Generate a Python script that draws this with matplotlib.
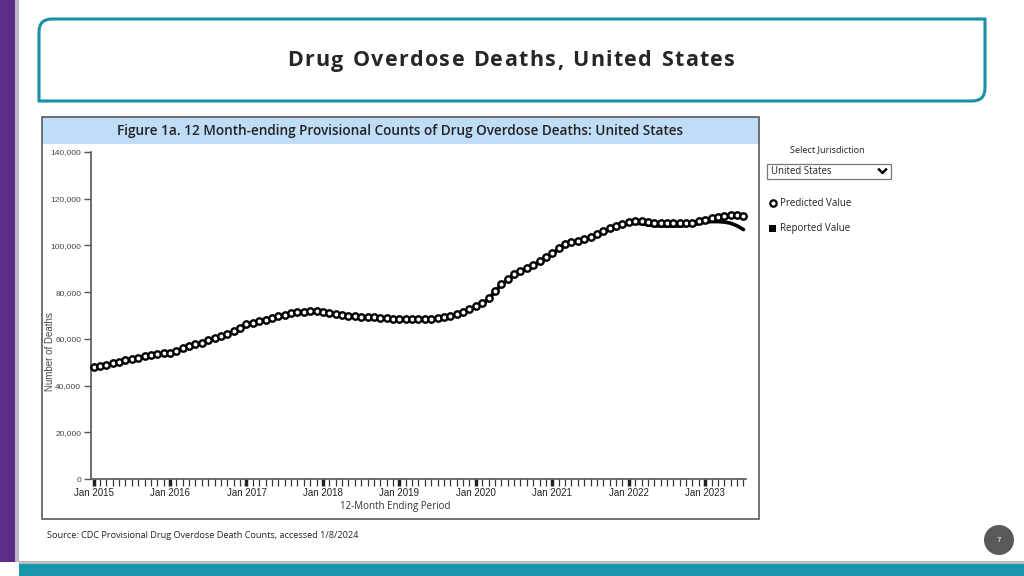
import numpy as np
import matplotlib
matplotlib.use("Agg")
import matplotlib.pyplot as plt
from matplotlib.patches import Rectangle, Circle, PathPatch
from matplotlib.path import Path
from matplotlib.ticker import FuncFormatter

# 12-month ending provisional counts, Jan 2015 .. Jul 2023
predicted = [
    48000, 48400, 49000, 49600, 50200, 50800, 51400, 52000, 52600, 53100, 53500, 53800,
    54000, 54900, 55900, 56800, 57600, 58400, 59300, 60300, 61300, 62200, 63200, 64600,
    66200, 67000, 67600, 68200, 68900, 69700, 70300, 70900, 71300, 71700, 71900, 71900,
    71600, 71100, 70600, 70200, 69900, 69700, 69500, 69400, 69300, 69100, 68900, 68700,
    68600, 68500, 68500, 68500, 68600, 68700, 68900, 69300, 69900, 70700, 71600, 72700,
    74000, 75400, 77300, 80600, 83400, 85700, 87600, 89200, 90500, 91800, 93200, 94900,
    96800, 98800, 100400, 101300, 101900, 102700, 103700, 104800, 106000, 107300, 108400, 109200,
    110000, 110600, 110500, 109900, 109600, 109500, 109500, 109500, 109500, 109600, 109800, 110300,
    111000, 111600, 112100, 112800, 113100, 112900, 112400,
]
reported = [
    47700, 48100, 48700, 49300, 49900, 50500, 51100, 51700, 52300, 52800, 53200, 53500,
    53700, 54600, 55600, 56500, 57300, 58100, 59000, 60000, 61000, 61900, 62900, 64300,
    65900, 66700, 67300, 67900, 68600, 69400, 70000, 70600, 71000, 71400, 71600, 71600,
    71300, 70800, 70300, 69900, 69600, 69400, 69200, 69100, 69000, 68800, 68600, 68400,
    68300, 68200, 68200, 68200, 68300, 68400, 68600, 69000, 69600, 70400, 71300, 72400,
    73700, 75100, 77000, 80300, 83100, 85400, 87300, 88900, 90200, 91500, 92900, 94600,
    96400, 98400, 100000, 100900, 101500, 102300, 103300, 104300, 105500, 106800, 107800, 108600,
    109300, 109500, 109300, 108800, 108400, 108300, 108300, 108300, 108300, 108500, 108800, 109400,
    110000, 110200, 110200, 110000, 109500, 108400, 106800,
]
year_labels = ["Jan 2015", "Jan 2016", "Jan 2017", "Jan 2018", "Jan 2019",
               "Jan 2020", "Jan 2021", "Jan 2022", "Jan 2023"]
y_ticks = [0, 20000, 40000, 60000, 80000, 100000, 120000, 140000]

W, H = 1024, 576
fig = plt.figure(figsize=(W / 100, H / 100), dpi=100)
fig.patch.set_facecolor("white")

# pixel-space overlay for the slide decorations
bg = fig.add_axes([0, 0, 1, 1])
bg.set_xlim(0, W)
bg.set_ylim(H, 0)
bg.axis("off")

# left purple band and bottom teal band
bg.add_patch(Rectangle((0, 0), 15, 562, color="#5B2D88", lw=0))
bg.add_patch(Rectangle((15, 0), 4, 562, color="#BEB6C6", lw=0))
bg.add_patch(Rectangle((19, 561), W - 19, 3, color="#BDBDBD", lw=0))
bg.add_patch(Rectangle((19, 564), W - 19, 12, color="#1896AB", lw=0))

# title box: rounded top-left and bottom-right corners
x0, x1, y0, y1, r = 39, 985, 19, 101, 13
verts = [(x0, y0 + r), (x0, y0), (x0 + r, y0), (x1, y0), (x1, y1 - r),
         (x1, y1), (x1 - r, y1), (x0, y1), (x0, y0 + r)]
codes = [Path.MOVETO, Path.CURVE3, Path.CURVE3, Path.LINETO, Path.LINETO,
         Path.CURVE3, Path.CURVE3, Path.LINETO, Path.CLOSEPOLY]
bg.add_patch(PathPatch(Path(verts, codes), fc="white", ec="#1A90A8", lw=2.2))

# letter-spaced slide title, placed char by char
title = "Drug Overdose Deaths, United States"
tracking = 1.35
renderer = fig.canvas.get_renderer()
widths = []
for ch in title:
    t = bg.text(0, 0, ch if ch != " " else "n", fontsize=15.5, fontweight="bold",
                family="Open Sans")
    w = t.get_window_extent(renderer).width
    t.remove()
    widths.append(w * (0.45 if ch == " " else 1.0))
total = sum(widths) + tracking * (len(title) - 1)
cx = 511 - total / 2
for ch, w in zip(title, widths):
    bg.text(cx, 61, ch, ha="left", va="center", fontsize=15.5, fontweight="bold",
            family="Open Sans", color="#262626")
    cx += w + tracking

# chart frame and banner
bg.add_patch(Rectangle((42, 117), 717, 27, color="#C0DDF7", lw=0))
bg.add_patch(Rectangle((42, 117), 717, 402, fill=False, ec="#5A5A5A", lw=1.2))
bg.text(400, 131, "Figure 1a. 12 Month-ending Provisional Counts of Drug Overdose Deaths: United States",
        ha="center", va="center", fontsize=9.8, family="Open Sans", fontweight="semibold",
        color="#222222")
bg.text(50, 352, "Number of Deaths", rotation=90, ha="center", va="center",
        fontsize=7, family="Liberation Sans", color="#444444")
bg.text(395, 506, "12-Month Ending Period", ha="center", va="center",
        fontsize=7, family="Open Sans", color="#333333")

# jurisdiction selector and legend
bg.text(827, 150, "Select Jurisdiction", ha="center", va="center",
        fontsize=6.6, family="Open Sans", color="#222222")
bg.add_patch(Rectangle((767, 164), 124, 15, fc="white", ec="#777777", lw=0.9))
bg.text(771, 172, "United States", ha="left", va="center",
        fontsize=6.9, family="Open Sans", color="#222222")
bg.plot([879, 882.5, 886], [169.5, 173, 169.5], color="black", lw=1.8)
bg.plot(772.5, 203, "o", ms=4.6, mfc="white", mec="black", mew=1.6)
bg.text(780, 203, "Predicted Value", ha="left", va="center",
        fontsize=7, family="Open Sans", color="#222222")
bg.add_patch(Rectangle((769, 224.5), 7, 7, color="black", lw=0))
bg.text(780, 228, "Reported Value", ha="left", va="center",
        fontsize=7, family="Open Sans", color="#222222")

# source + page number
bg.text(47, 536, "Source: CDC Provisional Drug Overdose Death Counts, accessed 1/8/2024",
        ha="left", va="center", fontsize=6.6, family="Open Sans", color="#222222")
bg.add_patch(Circle((999, 540), 15, color="#595959", lw=0))
bg.text(999, 540, "7", ha="center", va="center", fontsize=5, color="white")

# main chart
ax = fig.add_axes([91 / W, 1 - 479 / H, (746 - 91) / W, 327 / H])
ax.patch.set_alpha(0)
x = np.arange(len(predicted))
ax.plot(x, reported, color="black", lw=2.6, solid_capstyle="round", zorder=2, clip_on=False)
ax.plot(x, predicted, "o", ms=4.6, mfc="white", mec="black", mew=1.7, zorder=3, clip_on=False)

ax.set_xlim(-0.4, len(predicted) - 0.6)
ax.set_ylim(0, 140000)
ax.set_xticks(np.arange(0, len(predicted), 12))
ax.set_xticklabels(year_labels)
ax.set_xticks(np.arange(len(predicted)), minor=True)
ax.set_yticks(y_ticks)
ax.yaxis.set_major_formatter(FuncFormatter(lambda v, p: f"{int(v):,}"))
for s in ["top", "right"]:
    ax.spines[s].set_visible(False)
for s in ["left", "bottom"]:
    ax.spines[s].set_color("#555555")
    ax.spines[s].set_linewidth(1.2)
ax.tick_params(axis="x", which="major", length=5, width=2.5, color="#222222", pad=1.5,
               labelsize=7, labelcolor="#222222")
ax.tick_params(axis="x", which="minor", length=5, width=0.9, color="#333333")
ax.tick_params(axis="y", length=5, width=1, color="#555555", pad=2, labelsize=6,
               labelcolor="#444444")
for lab in ax.get_xticklabels() + ax.get_yticklabels():
    lab.set_family("Liberation Sans")

fig.savefig("out.png", dpi=100)
